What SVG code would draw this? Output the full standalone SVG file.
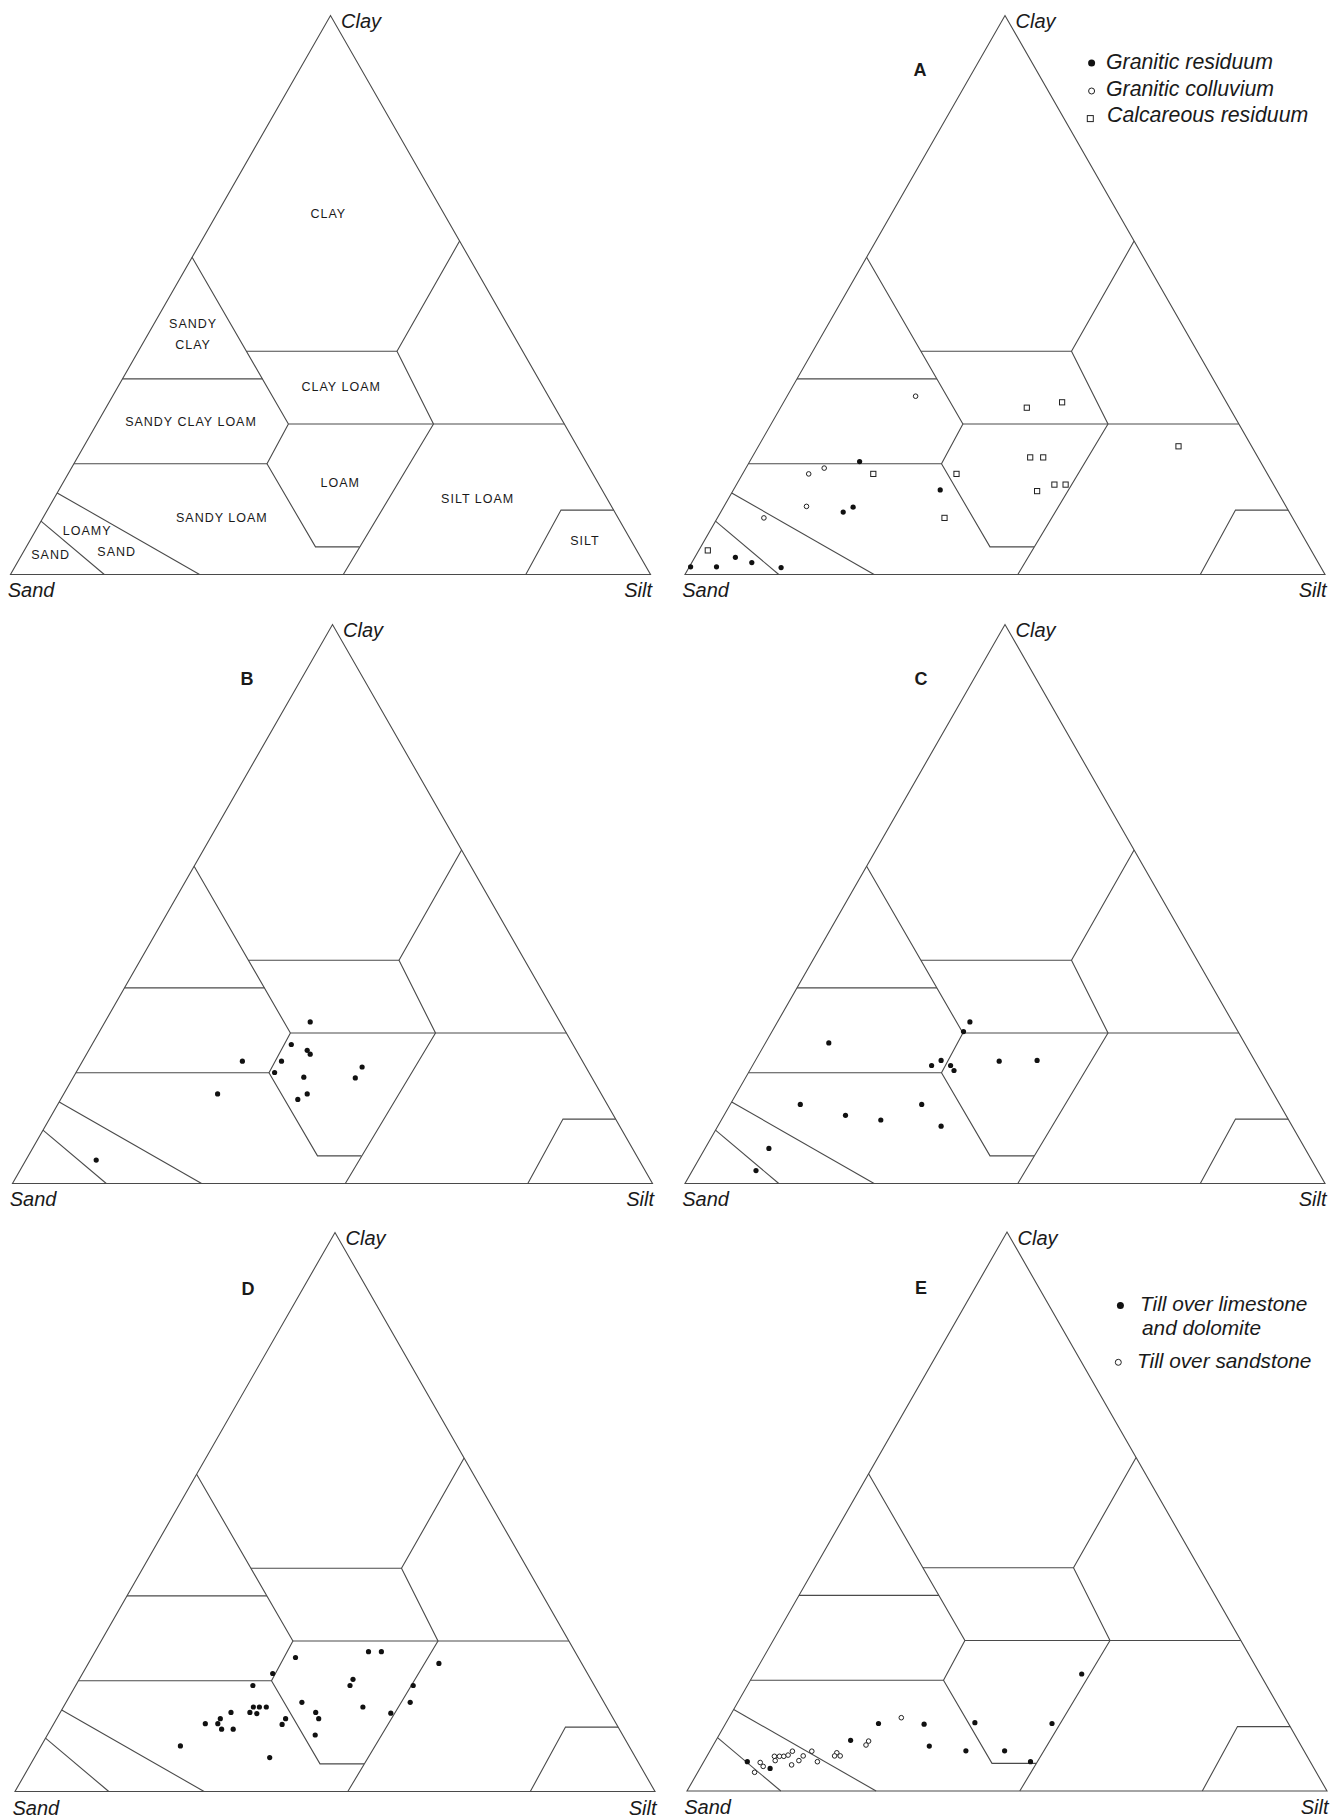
<svg xmlns="http://www.w3.org/2000/svg" xmlns:xlink="http://www.w3.org/1999/xlink" width="1343" height="1819" viewBox="0 0 1343 1819">
<style>
.edge{fill:none;stroke:#4a4a4a;stroke-width:1.1;stroke-linejoin:miter}
text{font-family:"Liberation Sans",Arial,Helvetica,sans-serif;fill:#1a1a1a}
.ax{font-style:italic;font-size:20px}
.lbl{font-size:12.5px;letter-spacing:1px;text-anchor:middle}
.pl{font-size:18px;font-weight:bold;text-anchor:middle}
.leg{font-style:italic;font-size:21.3px}
.leg2{font-style:italic;font-size:20.8px}
.fd{fill:#111}
.od{fill:#fff;stroke:#222;stroke-width:1}
.sq{fill:#fff;stroke:#222;stroke-width:1}
</style>
<defs>
<g id="tpl" class="edge">
<path d="M0,0 L640,0 L320,-559 Z"/>
<path d="M181.6,-317.3 L277.9,-150.5 L256.5,-110.7 L305,-27.6 L349,-27.6"/>
<path d="M449.1,-333.4 L386.5,-223.2 L423,-150.5 L332.8,0"/>
<path d="M235.9,-223.2 L386.5,-223.2"/>
<path d="M112,-195.6 L251.9,-195.6"/>
<path d="M277.9,-150.5 L553.8,-150.5"/>
<path d="M63.4,-110.7 L256.5,-110.7"/>
<path d="M603.1,-64.4 L550.5,-64.4 L515.3,0"/>
<path d="M46.7,-81.6 L189.1,0"/>
<path d="M30.5,-53.3 L93.8,0"/>
</g>
<rect id="sq" x="-2.6" y="-2.6" width="5.2" height="5.2" class="sq"/>
</defs>

<g id="connectors">
<use href="#tpl" xlink:href="#tpl" transform="translate(10.5,574.5)"/>
<use href="#tpl" xlink:href="#tpl" transform="translate(685,574.5)"/>
<use href="#tpl" xlink:href="#tpl" transform="translate(12.5,1183.5)"/>
<use href="#tpl" xlink:href="#tpl" transform="translate(685,1183.5)"/>
<use href="#tpl" xlink:href="#tpl" transform="translate(15,1791.5)"/>
<use href="#tpl" xlink:href="#tpl" transform="translate(687,1791)"/>
</g>

<g id="panel-key">
<text class="ax" x="341" y="27.5">Clay</text>
<text class="ax" x="7.7" y="597">Sand</text>
<text class="ax" x="652" y="597" text-anchor="end">Silt</text>
<text class="lbl" x="328.3" y="217.8">CLAY</text>
<text class="lbl" x="193.1" y="328.4">SANDY</text>
<text class="lbl" x="193.1" y="348.7">CLAY</text>
<text class="lbl" x="341.2" y="390.8">CLAY LOAM</text>
<text class="lbl" x="191" y="426.4">SANDY CLAY LOAM</text>
<text class="lbl" x="340.3" y="487.3">LOAM</text>
<text class="lbl" x="477.7" y="503.3">SILT LOAM</text>
<text class="lbl" x="221.9" y="521.7">SANDY LOAM</text>
<text class="lbl" x="585" y="545.1">SILT</text>
<text class="lbl" x="87.1" y="535.1">LOAMY</text>
<text class="lbl" x="116.7" y="556.2">SAND</text>
<text class="lbl" x="50.6" y="559.2">SAND</text>
</g>

<g id="panel-A">
<text class="ax" x="1015.5" y="27.5">Clay</text>
<text class="ax" x="682.2" y="597">Sand</text>
<text class="ax" x="1326.5" y="597" text-anchor="end">Silt</text>
<text class="pl" x="920" y="75.5">A</text>
<circle class="fd" cx="1091.6" cy="63" r="3.5"/>
<text class="leg" x="1106" y="69">Granitic residuum</text>
<circle class="od" cx="1091.6" cy="91" r="3"/>
<text class="leg" x="1106" y="95.5">Granitic colluvium</text>
<rect class="sq" x="1087.3" y="115.6" width="6" height="6"/>
<text class="leg" x="1107" y="122">Calcareous residuum</text>
<g transform="translate(685,574.5)">
<circle class="fd" cx="174.6" cy="-112.9" r="2.6"/>
<circle class="fd" cx="255.2" cy="-84.6" r="2.6"/>
<circle class="fd" cx="168.1" cy="-67.3" r="2.6"/>
<circle class="fd" cx="158.2" cy="-62.4" r="2.6"/>
<circle class="fd" cx="5.6" cy="-7.7" r="2.6"/>
<circle class="fd" cx="31.5" cy="-7.7" r="2.6"/>
<circle class="fd" cx="50.4" cy="-17.2" r="2.6"/>
<circle class="fd" cx="66.8" cy="-11.9" r="2.6"/>
<circle class="fd" cx="96.1" cy="-6.9" r="2.6"/>
<circle class="od" cx="230.6" cy="-178.3" r="2.3"/>
<circle class="od" cx="139.2" cy="-106.4" r="2.3"/>
<circle class="od" cx="123.7" cy="-100.6" r="2.3"/>
<circle class="od" cx="121.5" cy="-68.1" r="2.3"/>
<circle class="od" cx="78.9" cy="-56.6" r="2.3"/>
<use href="#sq" xlink:href="#sq" x="22.8" y="-24.1"/>
<use href="#sq" xlink:href="#sq" x="188.3" y="-100.6"/>
<use href="#sq" xlink:href="#sq" x="271.5" y="-100.6"/>
<use href="#sq" xlink:href="#sq" x="259.5" y="-56.6"/>
<use href="#sq" xlink:href="#sq" x="341.8" y="-166.8"/>
<use href="#sq" xlink:href="#sq" x="377.1" y="-172.2"/>
<use href="#sq" xlink:href="#sq" x="345.2" y="-117.1"/>
<use href="#sq" xlink:href="#sq" x="358.2" y="-117.1"/>
<use href="#sq" xlink:href="#sq" x="352.1" y="-83.4"/>
<use href="#sq" xlink:href="#sq" x="369.4" y="-89.9"/>
<use href="#sq" xlink:href="#sq" x="380.6" y="-89.9"/>
<use href="#sq" xlink:href="#sq" x="493.5" y="-128.2"/>
</g>
</g>

<g id="panel-B">
<text class="ax" x="343" y="636.5">Clay</text>
<text class="ax" x="9.7" y="1206">Sand</text>
<text class="ax" x="654" y="1206" text-anchor="end">Silt</text>
<text class="pl" x="247" y="684.5">B</text>
<g transform="translate(12.5,1183.5)">
<circle class="fd" cx="297.7" cy="-161.6" r="2.6"/>
<circle class="fd" cx="278.8" cy="-139" r="2.6"/>
<circle class="fd" cx="294.7" cy="-133.2" r="2.6"/>
<circle class="fd" cx="297.7" cy="-129.3" r="2.6"/>
<circle class="fd" cx="269" cy="-122.3" r="2.6"/>
<circle class="fd" cx="229.9" cy="-122.3" r="2.6"/>
<circle class="fd" cx="262.1" cy="-111" r="2.6"/>
<circle class="fd" cx="291.3" cy="-106.3" r="2.6"/>
<circle class="fd" cx="349.6" cy="-116.5" r="2.6"/>
<circle class="fd" cx="342.8" cy="-105.6" r="2.6"/>
<circle class="fd" cx="294.7" cy="-89.6" r="2.6"/>
<circle class="fd" cx="285.3" cy="-84.1" r="2.6"/>
<circle class="fd" cx="205.1" cy="-89.6" r="2.6"/>
<circle class="fd" cx="83.7" cy="-23.4" r="2.6"/>
</g>
</g>

<g id="panel-C">
<text class="ax" x="1015.5" y="636.5">Clay</text>
<text class="ax" x="682.2" y="1206">Sand</text>
<text class="ax" x="1326.5" y="1206" text-anchor="end">Silt</text>
<text class="pl" x="921" y="684.5">C</text>
<g transform="translate(685,1183.5)">
<circle class="fd" cx="284.9" cy="-161.6" r="2.6"/>
<circle class="fd" cx="278.5" cy="-151.9" r="2.6"/>
<circle class="fd" cx="143.8" cy="-140.6" r="2.6"/>
<circle class="fd" cx="256.1" cy="-123.1" r="2.6"/>
<circle class="fd" cx="246.6" cy="-118" r="2.6"/>
<circle class="fd" cx="265.6" cy="-118" r="2.6"/>
<circle class="fd" cx="269" cy="-113" r="2.6"/>
<circle class="fd" cx="314.2" cy="-122.3" r="2.6"/>
<circle class="fd" cx="352.1" cy="-123.1" r="2.6"/>
<circle class="fd" cx="115.3" cy="-79.1" r="2.6"/>
<circle class="fd" cx="160.5" cy="-68.2" r="2.6"/>
<circle class="fd" cx="195.8" cy="-63.5" r="2.6"/>
<circle class="fd" cx="236.7" cy="-79.1" r="2.6"/>
<circle class="fd" cx="256.1" cy="-57.3" r="2.6"/>
<circle class="fd" cx="83.9" cy="-35.1" r="2.6"/>
<circle class="fd" cx="71" cy="-12.9" r="2.6"/>
</g>
</g>

<g id="panel-D">
<text class="ax" x="345.5" y="1244.5">Clay</text>
<text class="ax" x="12.5" y="1814.5">Sand</text>
<text class="ax" x="656.5" y="1814.5" text-anchor="end">Silt</text>
<text class="pl" x="248" y="1294.5">D</text>
<g transform="translate(15,1791.5)">
<circle class="fd" cx="353.5" cy="-139.8" r="2.6"/>
<circle class="fd" cx="366.4" cy="-139.8" r="2.6"/>
<circle class="fd" cx="280.5" cy="-134" r="2.6"/>
<circle class="fd" cx="423.9" cy="-128.1" r="2.6"/>
<circle class="fd" cx="257.7" cy="-118" r="2.6"/>
<circle class="fd" cx="338" cy="-112.2" r="2.6"/>
<circle class="fd" cx="335" cy="-106" r="2.6"/>
<circle class="fd" cx="398.2" cy="-106" r="2.6"/>
<circle class="fd" cx="237.9" cy="-106" r="2.6"/>
<circle class="fd" cx="395.2" cy="-89.2" r="2.6"/>
<circle class="fd" cx="286.9" cy="-89.2" r="2.6"/>
<circle class="fd" cx="347.9" cy="-84.5" r="2.6"/>
<circle class="fd" cx="238.4" cy="-84.5" r="2.6"/>
<circle class="fd" cx="244.4" cy="-84.5" r="2.6"/>
<circle class="fd" cx="251.3" cy="-84.5" r="2.6"/>
<circle class="fd" cx="234.9" cy="-79.1" r="2.6"/>
<circle class="fd" cx="241.8" cy="-77.9" r="2.6"/>
<circle class="fd" cx="216" cy="-79.1" r="2.6"/>
<circle class="fd" cx="300.7" cy="-79.1" r="2.6"/>
<circle class="fd" cx="303.7" cy="-72.8" r="2.6"/>
<circle class="fd" cx="375.8" cy="-78.3" r="2.6"/>
<circle class="fd" cx="270.6" cy="-72.8" r="2.6"/>
<circle class="fd" cx="205.3" cy="-72.8" r="2.6"/>
<circle class="fd" cx="190.3" cy="-67.8" r="2.6"/>
<circle class="fd" cx="202.8" cy="-67.8" r="2.6"/>
<circle class="fd" cx="206.6" cy="-62.3" r="2.6"/>
<circle class="fd" cx="218.2" cy="-62.3" r="2.6"/>
<circle class="fd" cx="267.1" cy="-67.1" r="2.6"/>
<circle class="fd" cx="300.2" cy="-56.5" r="2.6"/>
<circle class="fd" cx="165.4" cy="-45.6" r="2.6"/>
<circle class="fd" cx="254.7" cy="-33.9" r="2.6"/>
</g>
</g>

<g id="panel-E">
<text class="ax" x="1017.5" y="1244.5">Clay</text>
<text class="ax" x="684.2" y="1814">Sand</text>
<text class="ax" x="1328.5" y="1814" text-anchor="end">Silt</text>
<text class="pl" x="921" y="1294">E</text>
<circle class="fd" cx="1120.4" cy="1305.5" r="3.5"/>
<text class="leg2" x="1140" y="1310.5">Till over limestone</text>
<text class="leg2" x="1142" y="1334.5">and dolomite</text>
<circle class="od" cx="1118.3" cy="1362.3" r="3"/>
<text class="leg2" x="1137" y="1367.5">Till over sandstone</text>
<g transform="translate(687,1791)">
<circle class="fd" cx="394.7" cy="-117" r="2.6"/>
<circle class="fd" cx="191.5" cy="-67.5" r="2.6"/>
<circle class="fd" cx="237.1" cy="-66.8" r="2.6"/>
<circle class="fd" cx="287.9" cy="-68.3" r="2.6"/>
<circle class="fd" cx="365" cy="-67.5" r="2.6"/>
<circle class="fd" cx="163.6" cy="-50.7" r="2.6"/>
<circle class="fd" cx="242.3" cy="-44.9" r="2.6"/>
<circle class="fd" cx="278.9" cy="-40.2" r="2.6"/>
<circle class="fd" cx="317.6" cy="-40.2" r="2.6"/>
<circle class="fd" cx="343.5" cy="-29.3" r="2.6"/>
<circle class="fd" cx="60.3" cy="-29.3" r="2.6"/>
<circle class="fd" cx="83.1" cy="-22.6" r="2.6"/>
<circle class="od" cx="214.3" cy="-73.3" r="2.3"/>
<circle class="od" cx="181.6" cy="-49.9" r="2.3"/>
<circle class="od" cx="179" cy="-46" r="2.3"/>
<circle class="od" cx="124.8" cy="-39.8" r="2.3"/>
<circle class="od" cx="149.8" cy="-38.2" r="2.3"/>
<circle class="od" cx="147.6" cy="-35.1" r="2.3"/>
<circle class="od" cx="153.2" cy="-35.1" r="2.3"/>
<circle class="od" cx="130.4" cy="-29.3" r="2.3"/>
<circle class="od" cx="105.4" cy="-39.8" r="2.3"/>
<circle class="od" cx="116.2" cy="-35.1" r="2.3"/>
<circle class="od" cx="111.9" cy="-30.4" r="2.3"/>
<circle class="od" cx="104.6" cy="-26.1" r="2.3"/>
<circle class="od" cx="87.4" cy="-34.7" r="2.3"/>
<circle class="od" cx="92.5" cy="-34.7" r="2.3"/>
<circle class="od" cx="96.8" cy="-34.7" r="2.3"/>
<circle class="od" cx="101.1" cy="-35.9" r="2.3"/>
<circle class="od" cx="88.2" cy="-30.4" r="2.3"/>
<circle class="od" cx="73.2" cy="-28.5" r="2.3"/>
<circle class="od" cx="76.2" cy="-24.6" r="2.3"/>
<circle class="od" cx="67.6" cy="-18.7" r="2.3"/>
</g>
</g>
</svg>
